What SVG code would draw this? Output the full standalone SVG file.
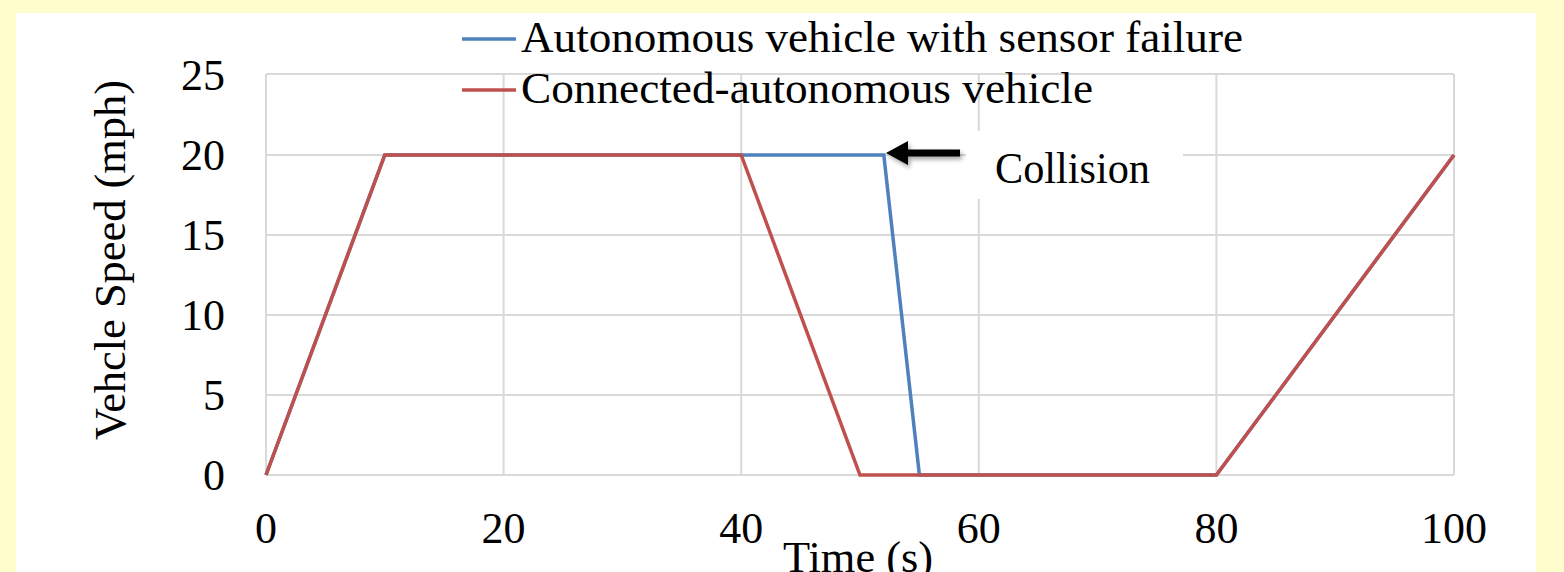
<svg xmlns="http://www.w3.org/2000/svg" width="1564" height="572" viewBox="0 0 1564 572">
<style>
.t{font-family:"Liberation Serif","DejaVu Serif",serif;fill:#000;font-size:44px}
.grid{stroke:#D9D9D9;stroke-width:2;fill:none}
.ser{fill:none;stroke-width:3.5;stroke-linejoin:miter}
</style>
<defs>
<filter id="sh" x="-20%" y="-50%" width="140%" height="200%"><feDropShadow dx="2" dy="3" stdDeviation="2" flood-color="#000" flood-opacity="0.35"/></filter>
</defs>
<rect width="1564" height="572" fill="#FFFDCC"/>
<rect x="16" y="13" width="1520" height="559" fill="#FFFFFF"/>
<g id="grid">
<path class="grid" d="M266 74H1454M266 155H1454M266 235H1454M266 315H1454M266 395H1454M266 475H1454"/>
<path class="grid" d="M266 74V475M503.6 74V475M741.2 74V475M978.8 74V475M1216.4 74V475M1454 74V475"/>
</g>
<g id="ylabels" class="t" text-anchor="end">
<text x="225" y="90">25</text>
<text x="225" y="170">20</text>
<text x="225" y="250">15</text>
<text x="225" y="330">10</text>
<text x="225" y="410">5</text>
<text x="225" y="490">0</text>
</g>
<g id="xlabels" class="t" text-anchor="middle">
<text x="266" y="543">0</text>
<text x="503.6" y="543">20</text>
<text x="741.2" y="543">40</text>
<text x="978.8" y="543">60</text>
<text x="1216.4" y="543">80</text>
<text x="1454" y="543">100</text>
</g>
<text id="xtitle" class="t" x="783" y="572" textLength="150" lengthAdjust="spacingAndGlyphs">Time (s)</text>
<text id="ytitle" class="t" transform="translate(125 260) rotate(-90)" x="-180" textLength="360" lengthAdjust="spacingAndGlyphs">Vehcle Speed (mph)</text>
<g id="series">
<polyline class="ser" stroke="#4F81BD" points="266,475 384.8,155 883.8,155 919.4,475 1216.4,475 1454,155"/>
<polyline class="ser" stroke="#C0504D" points="266,475 384.8,155 741.2,155 860,475 1216.4,475 1454,155"/>
</g>
<g id="legend">
<line x1="462" y1="39" x2="516" y2="39" stroke="#4F81BD" stroke-width="3.5"/>
<text class="t" x="521" y="52" textLength="722" lengthAdjust="spacingAndGlyphs">Autonomous vehicle with sensor failure</text>
<line x1="462" y1="90" x2="516" y2="90" stroke="#C0504D" stroke-width="3.5"/>
<text class="t" x="521" y="103" textLength="572" lengthAdjust="spacingAndGlyphs">Connected-autonomous vehicle</text>
</g>
<g id="collision">
<rect x="966" y="131" width="217" height="68" fill="#FFFFFF"/>
<path d="M886 153 L908 141 L908 149.5 L960 149.5 L960 156.5 L908 156.5 L908 165 Z" fill="#000" filter="url(#sh)"/>
<text class="t" x="995" y="183" textLength="155" lengthAdjust="spacingAndGlyphs">Collision</text>
</g>
</svg>
